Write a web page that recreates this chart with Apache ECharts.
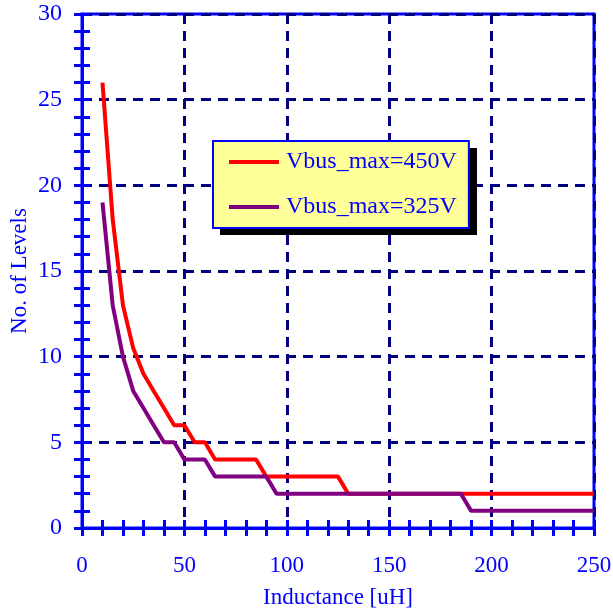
<!DOCTYPE html>
<html>
<head>
<meta charset="utf-8">
<script src="https://cdn.jsdelivr.net/npm/echarts@6/dist/echarts.min.js"></script>
<style>
  html, body { margin: 0; padding: 0; background: #fff; }
  #chart { width: 613px; height: 615px; }
</style>
</head>
<body>
<div id="chart"></div>
<script>
// inductance [uH] vs number of levels
const x450 = [10, 15, 20, 25, 30, 35, 40, 45, 50, 55, 60, 65, 85, 90, 125, 130, 250]
const y450 = [26, 18, 13, 10.5, 9, 8, 7, 6, 6, 5, 5, 4, 4, 3, 3, 2, 2]
const x325 = [10, 15, 20, 25, 30, 35, 40, 45, 50, 60, 65, 90, 95, 185, 190, 250]
const y325 = [19, 13, 10, 8, 7, 6, 5, 5, 4, 4, 3, 3, 2, 2, 1, 1]
const seriesNames = ['Vbus_max=450V', 'Vbus_max=325V']

const blue = '#0000ff'
const font = 'Liberation Serif'

function pairs(xs, ys) {
  const out = []
  for (let i = 0; i < xs.length; i++) {
    out.push([xs[i], ys[i]])
  }
  return out
}

// extra axes only carry the small ticks (one pointing out, one pointing in)
function tickAxis(max, step, pos, inside) {
  return {
    type: 'value', position: pos, min: 0, max: max, interval: step,
    axisLine: {show: false},
    axisLabel: {show: false},
    splitLine: {show: false},
    axisTick: {show: true, inside: inside, length: 8, lineStyle: {color: blue, width: 3}}
  }
}

const chart = echarts.init(document.getElementById('chart'))
const option = {
  backgroundColor: '#fff',
  animation: false,
  grid: {
    left: 82, right: 19, top: 14, bottom: 87,
    outerBoundsMode: 'none',
    show: true,
    borderColor: blue,
    borderWidth: 3,
    backgroundColor: 'transparent'
  },
  // drop shadow behind the legend box
  graphic: [{
    type: 'rect', left: 220, top: 148, z: 50,
    shape: {width: 257, height: 87},
    style: {fill: '#000'}
  }],
  legend: {
    orient: 'vertical',
    left: 213, top: 141, z: 60,
    data: seriesNames,
    icon: 'path://M0,0H50V4H0Z',
    itemWidth: 50, itemHeight: 24, itemGap: 21,
    padding: [9, 12, 9, 16],
    backgroundColor: '#ffff99',
    borderColor: blue, borderWidth: 2, borderRadius: 0,
    textStyle: {color: blue, fontFamily: font, fontSize: 24, padding: [0, 0, 0, 2]}
  },
  xAxis: [
    {
      type: 'value', position: 'bottom', min: 0, max: 250, interval: 50,
      name: 'Inductance [uH]', nameLocation: 'middle', nameGap: 58,
      nameMoveOverlap: false,
      nameTextStyle: {color: blue, fontFamily: font, fontSize: 23},
      axisLine: {show: true, lineStyle: {color: blue, width: 3}},
      axisTick: {show: false},
      axisLabel: {color: blue, fontFamily: font, fontSize: 23, margin: 26},
      splitLine: {show: true, lineStyle: {color: '#000080', width: 3, type: [10, 7]}}
    },
    tickAxis(250, 10, 'bottom', false),
    tickAxis(250, 10, 'bottom', true)
  ],
  yAxis: [
    {
      type: 'value', position: 'left', min: 0, max: 30, interval: 5,
      name: 'No. of Levels', nameLocation: 'middle', nameGap: 51,
      nameMoveOverlap: false,
      nameTextStyle: {color: blue, fontFamily: font, fontSize: 23},
      axisLine: {show: true, lineStyle: {color: blue, width: 3}},
      axisTick: {show: false},
      axisLabel: {color: blue, fontFamily: font, fontSize: 24, margin: 20},
      splitLine: {show: true, lineStyle: {color: '#000080', width: 3, type: [10, 7]}}
    },
    tickAxis(30, 1, 'left', false),
    tickAxis(30, 1, 'left', true)
  ],
  series: [
    {
      name: seriesNames[0], type: 'line', symbol: 'none',
      data: pairs(x450, y450),
      lineStyle: {color: '#ff0000', width: 4},
      itemStyle: {color: '#ff0000'},
      z: 3
    },
    {
      name: seriesNames[1], type: 'line', symbol: 'none',
      data: pairs(x325, y325),
      lineStyle: {color: '#800080', width: 4},
      itemStyle: {color: '#800080'},
      z: 3
    }
  ]
}
chart.setOption(option)
</script>
</body>
</html>
